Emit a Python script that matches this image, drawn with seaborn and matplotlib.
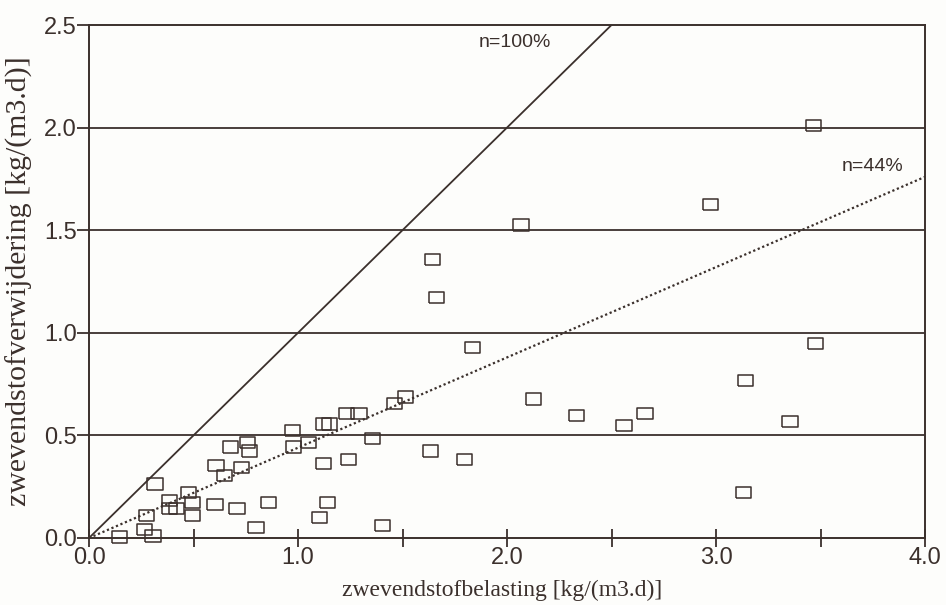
import matplotlib
matplotlib.use("Agg")
import matplotlib.pyplot as plt
import seaborn as sns
import numpy as np
import pandas as pd

# ---- data ----
belasting = [0.145, 0.266, 0.306, 0.276, 0.316, 0.387, 0.387, 0.417, 0.477, 0.497, 0.497,
             0.603, 0.708, 0.799, 0.859, 0.608, 0.648, 0.729, 0.678, 0.759, 0.769,
             0.975, 0.980, 1.050, 1.121, 1.151, 1.121, 1.141, 1.101, 1.242, 1.232, 1.292,
             1.357, 1.403, 1.463, 1.513, 1.634, 1.795, 2.067, 1.644, 1.664, 1.835,
             3.465, 2.972, 3.475, 3.143, 2.127, 2.333, 2.660, 2.560, 3.354, 3.133]
verwijdering = [0.005, 0.04, 0.01, 0.11, 0.263, 0.182, 0.142, 0.142, 0.222, 0.172, 0.111,
                0.162, 0.142, 0.051, 0.172, 0.354, 0.303, 0.344, 0.444, 0.465, 0.424,
                0.525, 0.444, 0.465, 0.555, 0.555, 0.364, 0.172, 0.101, 0.384, 0.606, 0.606,
                0.485, 0.061, 0.657, 0.687, 0.424, 0.384, 1.525, 1.358, 1.171, 0.929,
                2.009, 1.626, 0.949, 0.768, 0.677, 0.596, 0.606, 0.550, 0.566, 0.222]
efficiencies = [1.00, 0.44]
eff_labels = ["n=100%", "n=44%"]
x_ticks = [0.0, 1.0, 2.0, 3.0, 4.0]
y_ticks = [0.0, 0.5, 1.0, 1.5, 2.0, 2.5]

df = pd.DataFrame({"belasting": belasting, "verwijdering": verwijdering})

sns.set_style("white")
ink = "#3b302c"
plt.rcParams["font.family"] = ["Liberation Sans", "DejaVu Sans"]

fig = plt.figure(figsize=(9.46, 6.05), dpi=100, facecolor="#fdfdfb")
ax = fig.add_axes([89 / 946, 67 / 605, 836 / 946, 513 / 605])
ax.set_facecolor("#fdfdfb")

# horizontal grid lines
for yv in y_ticks[1:-1]:
    ax.axhline(yv, color=ink, lw=1.3, zorder=1)

# efficiency lines
xs = np.array([0.0, 4.0])
ax.plot(xs, efficiencies[0] * xs, color=ink, lw=1.3, zorder=2)
ax.plot(xs, efficiencies[1] * xs, color=ink, lw=1.6, ls=(0, (1, 1.2)), zorder=2)
ax.text(2.04, 2.417, eff_labels[0], fontsize=14, color=ink, ha="center", va="center")
ax.text(3.75, 1.81, eff_labels[1], fontsize=14, color=ink, ha="center", va="center")

rect = [(-1.35, -1), (1.35, -1), (1.35, 1), (-1.35, 1), (-1.35, -1)]
sns.scatterplot(data=df, x="belasting", y="verwijdering", ax=ax, marker=rect,
                s=120, facecolor="none", edgecolor=ink, linewidth=1.1, zorder=3,
                legend=False, clip_on=False)

ax.set_xlim(0, 4.0)
ax.set_ylim(0, 2.5)
ax.set_xticks(x_ticks)
ax.set_xticklabels([f"{v:.1f}" for v in x_ticks])
ax.set_xticks(np.arange(0.5, 4.0, 1.0), minor=True)
ax.set_yticks(y_ticks)
ax.set_yticklabels([f"{v:.1f}" for v in y_ticks])
ax.tick_params(axis="x", which="both", direction="inout", length=13, width=1.3,
               color=ink, labelsize=17, labelcolor=ink, pad=0, bottom=True)
ax.tick_params(axis="y", direction="out", length=9, width=1.3, color=ink,
               labelsize=17, labelcolor=ink, pad=0, left=True)
for sp in ax.spines.values():
    sp.set_color(ink)
    sp.set_linewidth(1.4)

ax.set_xlabel("zwevendstofbelasting [kg/(m3.d)]", fontsize=17, color=ink,
              family=["Liberation Serif", "DejaVu Serif"])
ax.set_ylabel("zwevendstofverwijdering [kg/(m3.d)]", fontsize=21.5, color=ink,
              family=["Liberation Serif", "DejaVu Serif"])
ax.xaxis.set_label_coords(0.494, -0.082)
ax.yaxis.set_label_coords(-0.067, 0.5)

fig.savefig("out.png", dpi=100, facecolor=fig.get_facecolor())
